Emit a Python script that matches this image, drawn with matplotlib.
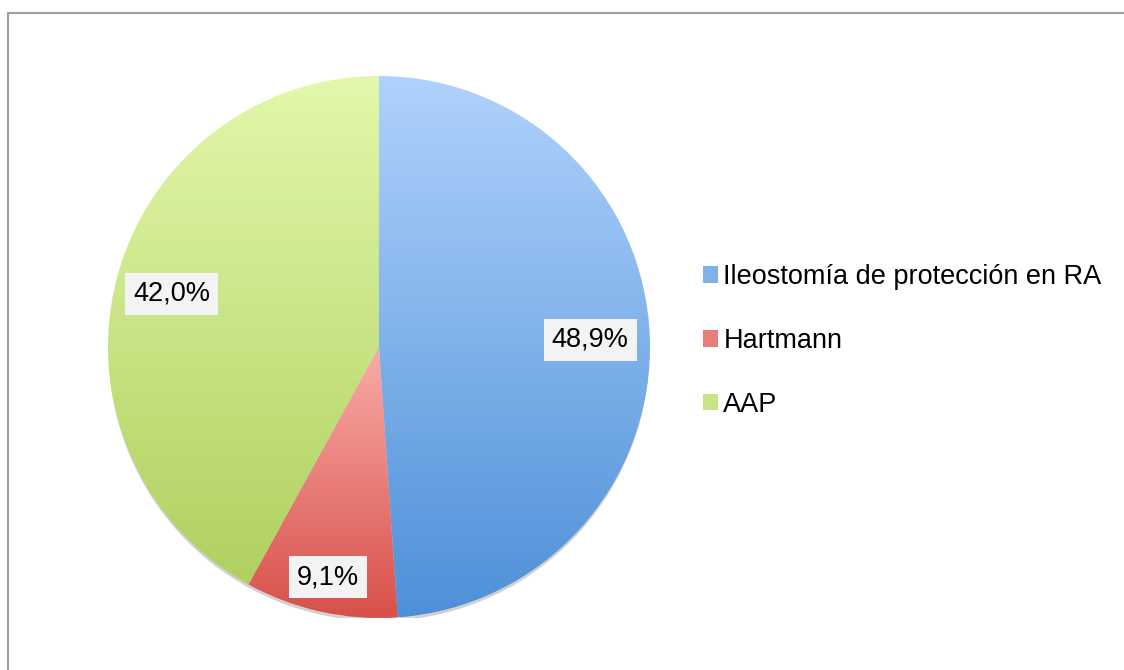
import matplotlib
matplotlib.use("Agg")
from matplotlib import pyplot as plt
from matplotlib.patches import Rectangle, Circle
from matplotlib.colors import LinearSegmentedColormap
import numpy as np

labels = ["Ileostomía de protección en RA", "Hartmann", "AAP"]
values = [48.9, 9.1, 42.0]
pct_text = ["48,9%", "9,1%", "42,0%"]

top_colors = ["#b0d2fc", "#f9aca8", "#e2f8ab"]
bottom_colors = ["#4e90d8", "#d8504a", "#b0d060"]
label_dist = [0.78, 0.87, 0.79]

plt.rcParams['font.family'] = ['Liberation Sans', 'DejaVu Sans']

fig = plt.figure(figsize=(11.24, 6.70), dpi=100)
fig.patch.set_facecolor("white")

# outer frame (only left and top edges are visible in the reference)
fig.patches.append(Rectangle((7.5 / 1124, -0.2), 1.2, 1.2 - 12.5 / 670,
                             transform=fig.transFigure, fill=False,
                             edgecolor="#a0a0a0", linewidth=1.5))

cx, cy, r = 379, 347, 271
ax = fig.add_axes([(cx - r) / 1124, (670 - cy - r) / 670, 2 * r / 1124, 2 * r / 670])

# soft shadow under the pie
ax.add_patch(Circle((0, -0.014), 0.995, color="#c4c4c4", alpha=0.7, zorder=0))

wedges, _ = ax.pie(values, startangle=90, counterclock=False, radius=1,
                   wedgeprops=dict(linewidth=0, edgecolor="none"))

grad = np.linspace(0, 1, 256).reshape(-1, 1)
for w, c0, c1 in zip(wedges, top_colors, bottom_colors):
    w.set_facecolor("none")
    bb = w.get_path().get_extents()
    cmap = LinearSegmentedColormap.from_list("g", [c0, c1])
    im = ax.imshow(grad, cmap=cmap, aspect="auto",
                   extent=[bb.x0, bb.x1, bb.y0, bb.y1], origin="upper", zorder=1)
    im.set_clip_path(w)

for w, txt, d in zip(wedges, pct_text, label_dist):
    ang = np.deg2rad((w.theta1 + w.theta2) / 2)
    ax.text(d * np.cos(ang), d * np.sin(ang), txt, ha="center", va="center",
            fontsize=19.5, color="black", zorder=3,
            bbox=dict(boxstyle="square,pad=0.3", facecolor="#f3f3f3", edgecolor="none"))

ax.set_xlim(-1, 1)
ax.set_ylim(-1, 1)
ax.set_aspect("equal")
ax.axis("off")

handles = []
for a, b in zip(top_colors, bottom_colors):
    mid = (np.array(matplotlib.colors.to_rgb(a)) + np.array(matplotlib.colors.to_rgb(b))) / 2
    handles.append(Rectangle((0, 0), 1, 1, facecolor=mid, edgecolor="none"))

fig.legend(handles, labels, loc="center left", bbox_to_anchor=(703 / 1124, 1 - 341 / 670),
           frameon=False, fontsize=19.5, handlelength=0.55, handleheight=0.55,
           handletextpad=0.2, labelspacing=1.4, borderpad=0, borderaxespad=0)

fig.savefig("out.png", dpi=100, facecolor="white")
